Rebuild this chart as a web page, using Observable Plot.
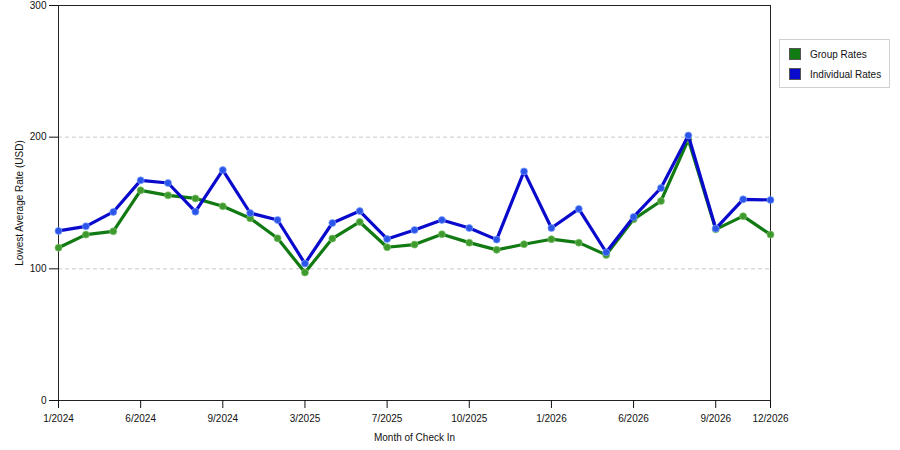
<!DOCTYPE html>
<html><head><meta charset="utf-8">
<script src="https://cdn.jsdelivr.net/npm/d3@7"></script>
<script src="https://cdn.jsdelivr.net/npm/@observablehq/plot@0.6"></script>
<style>
body{margin:0;background:#fff;}
#wrap{position:relative;width:900px;height:450px;}
.legend{position:absolute;left:779px;top:39px;width:109px;height:47px;border:1px solid #d0d0d0;font:10px "Liberation Sans",Arial,sans-serif;color:#111;background:#fff;}
.legend .row{position:absolute;left:9px;height:12px;display:flex;align-items:center;}
.legend .sw{width:12px;height:12px;margin-right:9px;box-sizing:border-box;border:1px solid #555;}
</style>
</head><body>
<div id="wrap"></div>
<script>
const months = ["1/2024","3/2024","4/2024","6/2024","7/2024","8/2024","9/2024","10/2024","12/2024",
  "3/2025","5/2025","6/2025","7/2025","8/2025","9/2025","10/2025","11/2025","12/2025",
  "1/2026","3/2026","4/2026","6/2026","7/2026","8/2026","9/2026","10/2026","12/2026"];
const groupRates = [116,126,128.5,159.6,155.8,153.5,147.5,138.4,123.2,97.2,123,135.6,116.4,118.4,126.3,119.9,114.4,118.7,122.5,119.9,110.6,137.6,151.5,198.2,130,140,126];
const individualRates = [128.8,132.3,143.2,167.2,165.2,143.4,175,142.4,137.1,104,134.8,143.9,122.7,129.5,137.1,131,122.2,174,131,145.5,112.6,139.4,161.4,201.3,130.6,152.8,152.3];
const tickLabels = ["1/2024","6/2024","9/2024","3/2025","7/2025","10/2025","1/2026","6/2026","9/2026","12/2026"];
const yTicks = [0,100,200,300];
const seriesNames = ["Group Rates","Individual Rates"];
const lineColors = ["#127a12","#0a0acc"];
const dotColors = ["#3f9a2e","#2a55e8"];

const groupData = months.map((m,i)=>({month:m, rate:groupRates[i]}));
const indivData = months.map((m,i)=>({month:m, rate:individualRates[i]}));

const font = '"Liberation Sans", Arial, sans-serif';
const chart = Plot.plot({
  width: 900, height: 450,
  marginLeft: 58, marginRight: 130, marginTop: 5, marginBottom: 50,
  style: {fontFamily: font, fontSize: "10px", background: "#fff", color: "#111"},
  x: {type: "point", domain: months, padding: 0, round: false},
  y: {domain: [0, 300]},
  marks: [
    Plot.gridY(yTicks.filter(d => d > 0 && d < 300), {stroke: "#c8c8c8", strokeOpacity: 1, strokeDasharray: "4,3"}),
    Plot.frame({stroke: "#222"}),
    Plot.axisX({ticks: tickLabels, tickSize: 8, tickPadding: 6, label: "Month of Check In", labelAnchor: "center", labelArrow: false, labelOffset: 40}),
    Plot.axisY({ticks: yTicks, tickSize: 9, tickPadding: 3, label: "Lowest Average Rate (USD)", labelAnchor: "center", labelArrow: false, labelOffset: 43}),
    Plot.line(groupData, {x: "month", y: "rate", stroke: lineColors[0], strokeWidth: 3.2}),
    Plot.dot(groupData, {x: "month", y: "rate", r: 3.5, fill: dotColors[0], stroke: "#7cc06a", strokeWidth: 1, strokeOpacity: 0.7}),
    Plot.line(indivData, {x: "month", y: "rate", stroke: lineColors[1], strokeWidth: 3.2}),
    Plot.dot(indivData, {x: "month", y: "rate", r: 3.5, fill: dotColors[1], stroke: "#7aa0ff", strokeWidth: 1, strokeOpacity: 0.7})
  ]
});
const wrap = document.getElementById("wrap");
wrap.appendChild(chart);
const leg = document.createElement("div");
leg.className = "legend";
seriesNames.forEach((n,i)=>{
  const row = document.createElement("div");
  row.className = "row";
  row.style.top = (8 + i*20) + "px";
  row.innerHTML = `<span class="sw" style="background:${lineColors[i]}"></span><span>${n}</span>`;
  leg.appendChild(row);
});
wrap.appendChild(leg);
</script>
</body></html>
